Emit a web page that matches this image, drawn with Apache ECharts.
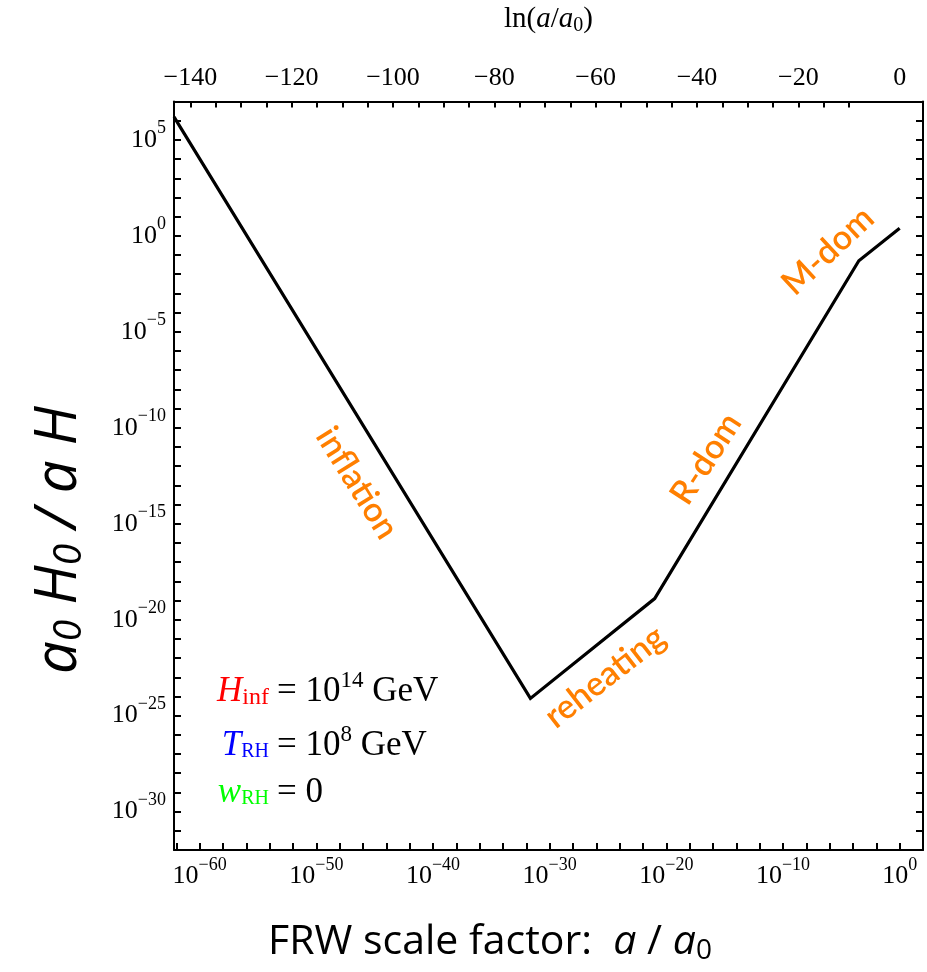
<!DOCTYPE html>
<html>
<head>
<meta charset="utf-8">
<script src="https://cdn.jsdelivr.net/npm/echarts@6/dist/echarts.min.js"></script>
<style>
  html, body { margin: 0; padding: 0; background: #ffffff; }
  #chart { width: 927px; height: 972px; }
</style>
</head>
<body>
<div id="chart"></div>
<script>
// Comoving Hubble radius a0H0/(aH) through the cosmic history (log10 units on both axes)
const logScaleFactor = [-62.2, -31.65, -21.0, -3.5, 0.0];   // log10(a/a0)
const logHubbleRatio = [6.2, -24.1, -18.9, -1.3, 0.4];       // log10(a0 H0 / a H)

// tick labels
const bottomLabelExps = [-60, -50, -40, -30, -20, -10, 0];
const leftLabelExps = [5, 0, -5, -10, -15, -20, -25, -30];
const topLabelValues = [-140, -120, -100, -80, -60, -40, -20, 0];

// axis ranges
const X_MIN = -62.2, X_MAX = 2.0;
const Y_MIN = -32, Y_MAX = 7;
const LN10 = Math.log(10);

// tick positions
const bottomTicks = [];
for (let v = -62; v <= 2; v += 2) bottomTicks.push(v);
const leftTicks = [];
for (let v = -32; v <= 7; v += 1) leftTicks.push(v);
const topTicks = [];
for (let v = -140; v <= -10; v += 5) topTicks.push(v);

const SERIF = '"Liberation Serif", "DejaVu Serif", serif';
const SANS = '"Open Sans", "Noto Sans", sans-serif';
const ORANGE = '#ff7f00';
const LABEL_FONT = '600 34px Lato, sans-serif';

function minus(v) { return v < 0 ? '\u2212' + Math.abs(v) : String(v); }
function powLabel(v) { return '{b|10}{s|' + minus(Math.round(v)) + '}'; }

const powRich = {
  b: { fontFamily: SERIF, fontSize: 26, color: '#000' },
  s: { fontFamily: SERIF, fontSize: 18, color: '#000', padding: [0, 0, 23, 0] }
};

const data = logScaleFactor.map((x, i) => [x, logHubbleRatio[i]]);

const chart = echarts.init(document.getElementById('chart'), null, { renderer: 'canvas' });

const tickStyle = { show: true, inside: true, length: 7, lineStyle: { color: '#000', width: 2 } };
const lineStyle = { show: true, onZero: false, lineStyle: { color: '#000', width: 2 } };

chart.setOption({
  backgroundColor: '#ffffff',
  animation: false,
  grid: { left: 174, right: 4, top: 99, bottom: 122, containLabel: false },
  xAxis: [
    {
      type: 'value', position: 'bottom', min: X_MIN, max: X_MAX,
      axisLine: lineStyle, splitLine: { show: false },
      axisTick: Object.assign({}, tickStyle, { customValues: bottomTicks }),
      axisLabel: {
        customValues: bottomLabelExps, margin: 6,
        formatter: powLabel, rich: powRich
      }
    },
    {
      type: 'value', position: 'top', min: X_MIN * LN10, max: X_MAX * LN10,
      axisLine: lineStyle, splitLine: { show: false },
      axisTick: Object.assign({}, tickStyle, { length: 6, customValues: topTicks }),
      axisLabel: {
        customValues: topLabelValues, margin: 10,
        fontFamily: SERIF, fontSize: 26, color: '#000',
        formatter: v => minus(Math.round(v))
      },
      name: '{r|ln(}{i|a}{r|/}{i|a}{sub|0}{r|)}',
      nameLocation: 'middle', nameGap: 66,
      nameTextStyle: {
        rich: {
          r: { fontFamily: SERIF, fontSize: 29, color: '#000' },
          i: { fontFamily: SERIF, fontSize: 29, fontStyle: 'italic', color: '#000' },
          sub: { fontFamily: SERIF, fontSize: 20, color: '#000', padding: [12, 0, 0, 0] }
        }
      }
    }
  ],
  yAxis: [
    {
      type: 'value', position: 'left', min: Y_MIN, max: Y_MAX,
      axisLine: lineStyle, splitLine: { show: false },
      axisTick: Object.assign({}, tickStyle, { customValues: leftTicks }),
      axisLabel: {
        customValues: leftLabelExps, margin: 8,
        formatter: powLabel, rich: powRich
      }
    },
    {
      type: 'value', position: 'right', min: Y_MIN, max: Y_MAX,
      axisLine: lineStyle, splitLine: { show: false },
      axisTick: Object.assign({}, tickStyle, { customValues: leftTicks }),
      axisLabel: { show: false }
    }
  ],
  series: [
    {
      type: 'line', xAxisIndex: 0, yAxisIndex: 0, data: data,
      showSymbol: false, symbol: 'none', clip: true,
      lineStyle: { color: '#000', width: 3.2, join: 'miter' }
    }
  ],
  graphic: [
    // y-axis title
    {
      type: 'text', x: 59, y: 540, rotation: Math.PI / 2,
      style: {
        text: '{v|a}{sb|0}{v| H}{sb|0}{v| / a H}',
        align: 'center', verticalAlign: 'middle',
        rich: {
          v: { fontFamily: SANS, fontStyle: 'italic', fontSize: 58, fill: '#000' },
          sb: { fontFamily: SANS, fontStyle: 'italic', fontSize: 39, fill: '#000', padding: [22, 0, 0, 0] }
        }
      }
    },
    // x-axis title
    {
      type: 'text', x: 490, y: 942,
      style: {
        text: '{t|FRW scale factor:  }{v|a}{t| / }{v|a}{sb|0}',
        align: 'center', verticalAlign: 'middle',
        rich: {
          t: { fontFamily: SANS, fontSize: 41, fill: '#000' },
          v: { fontFamily: SANS, fontStyle: 'italic', fontSize: 41, fill: '#000' },
          sb: { fontFamily: SANS, fontSize: 28, fill: '#000', padding: [18, 0, 0, 0] }
        }
      }
    },
    // phase annotations
    {
      type: 'text', x: 357, y: 483, rotation: -58 * Math.PI / 180,
      style: { text: 'inflation', fill: ORANGE, font: LABEL_FONT, align: 'center', verticalAlign: 'middle' }
    },
    {
      type: 'text', x: 605, y: 677, rotation: 38 * Math.PI / 180,
      style: { text: 'reheating', fill: ORANGE, font: LABEL_FONT, align: 'center', verticalAlign: 'middle' }
    },
    {
      type: 'text', x: 706, y: 459, rotation: 57 * Math.PI / 180,
      style: { text: 'R-dom', fill: ORANGE, font: LABEL_FONT, align: 'center', verticalAlign: 'middle' }
    },
    {
      type: 'text', x: 828, y: 251, rotation: 43 * Math.PI / 180,
      style: { text: 'M-dom', fill: ORANGE, font: LABEL_FONT, align: 'center', verticalAlign: 'middle' }
    },
    // parameter legend: left parts right-aligned, right parts start at the "=" sign
    {
      type: 'text', x: 269, y: 692,
      style: {
        text: '{v|H}{sb|inf}', align: 'right', verticalAlign: 'middle',
        rich: {
          v: { fontFamily: SERIF, fontStyle: 'italic', fontSize: 35, fill: '#ff0000' },
          sb: { fontFamily: SERIF, fontSize: 24, fill: '#ff0000', padding: [12, 0, 0, 0] }
        }
      }
    },
    {
      type: 'text', x: 277, y: 692,
      style: {
        text: '{r|= 10}{sp|14}{r| GeV}', align: 'left', verticalAlign: 'middle',
        rich: {
          r: { fontFamily: SERIF, fontSize: 35, fill: '#000' },
          sp: { fontFamily: SERIF, fontSize: 23, fill: '#000', padding: [0, 0, 22, 0] }
        }
      }
    },
    {
      type: 'text', x: 269, y: 746,
      style: {
        text: '{v|T}{sb|RH}', align: 'right', verticalAlign: 'middle',
        rich: {
          v: { fontFamily: SERIF, fontStyle: 'italic', fontSize: 35, fill: '#0000ff' },
          sb: { fontFamily: SERIF, fontSize: 20, fill: '#0000ff', padding: [12, 0, 0, 0] }
        }
      }
    },
    {
      type: 'text', x: 277, y: 746,
      style: {
        text: '{r|= 10}{sp|8}{r| GeV}', align: 'left', verticalAlign: 'middle',
        rich: {
          r: { fontFamily: SERIF, fontSize: 35, fill: '#000' },
          sp: { fontFamily: SERIF, fontSize: 23, fill: '#000', padding: [0, 0, 22, 0] }
        }
      }
    },
    {
      type: 'text', x: 269, y: 793,
      style: {
        text: '{v|w}{sb|RH}', align: 'right', verticalAlign: 'middle',
        rich: {
          v: { fontFamily: SERIF, fontStyle: 'italic', fontSize: 35, fill: '#00ff00' },
          sb: { fontFamily: SERIF, fontSize: 20, fill: '#00ff00', padding: [12, 0, 0, 0] }
        }
      }
    },
    {
      type: 'text', x: 277, y: 793,
      style: {
        text: '{r|= 0}', align: 'left', verticalAlign: 'middle',
        rich: { r: { fontFamily: SERIF, fontSize: 35, fill: '#000' } }
      }
    }
  ]
});
</script>
</body>
</html>
